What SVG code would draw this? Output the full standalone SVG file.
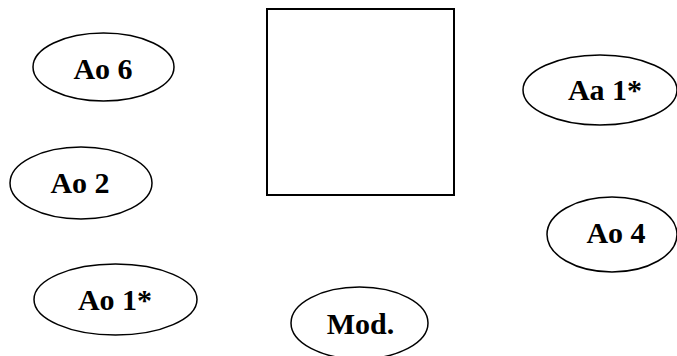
<svg xmlns="http://www.w3.org/2000/svg" width="677" height="356" viewBox="0 0 677 356">
<style>
.n ellipse, .n rect { fill: #fff; stroke: #000; stroke-width: 1.5; }
.n text { font-family: "Liberation Serif", "Times New Roman", serif; font-weight: bold; font-size: 30px; text-anchor: middle; fill: #000; }
</style>
<rect width="677" height="356" fill="#fff"/>
<g id="box" class="n"><rect x="267" y="9" width="187" height="186" style="stroke-width:2"/></g>
<g id="ao6" class="n"><ellipse cx="103.5" cy="67" rx="70.5" ry="34"/><text x="103" y="79">Ao 6</text></g>
<g id="ao2" class="n"><ellipse cx="81" cy="183" rx="71" ry="36"/><text x="80" y="193">Ao 2</text></g>
<g id="ao1" class="n"><ellipse cx="115.5" cy="299.5" rx="81.5" ry="35.5"/><text x="115" y="310">Ao 1*</text></g>
<g id="mod" class="n"><ellipse cx="359.5" cy="323" rx="68.5" ry="36"/><text x="360.5" y="334">Mod.</text></g>
<g id="aa1" class="n"><ellipse cx="600" cy="90" rx="77" ry="35"/><text x="605" y="100">Aa 1*</text></g>
<g id="ao4" class="n"><ellipse cx="612" cy="234.5" rx="65" ry="37.5"/><text x="616" y="243">Ao 4</text></g>
<g id="connectors"></g>
</svg>
